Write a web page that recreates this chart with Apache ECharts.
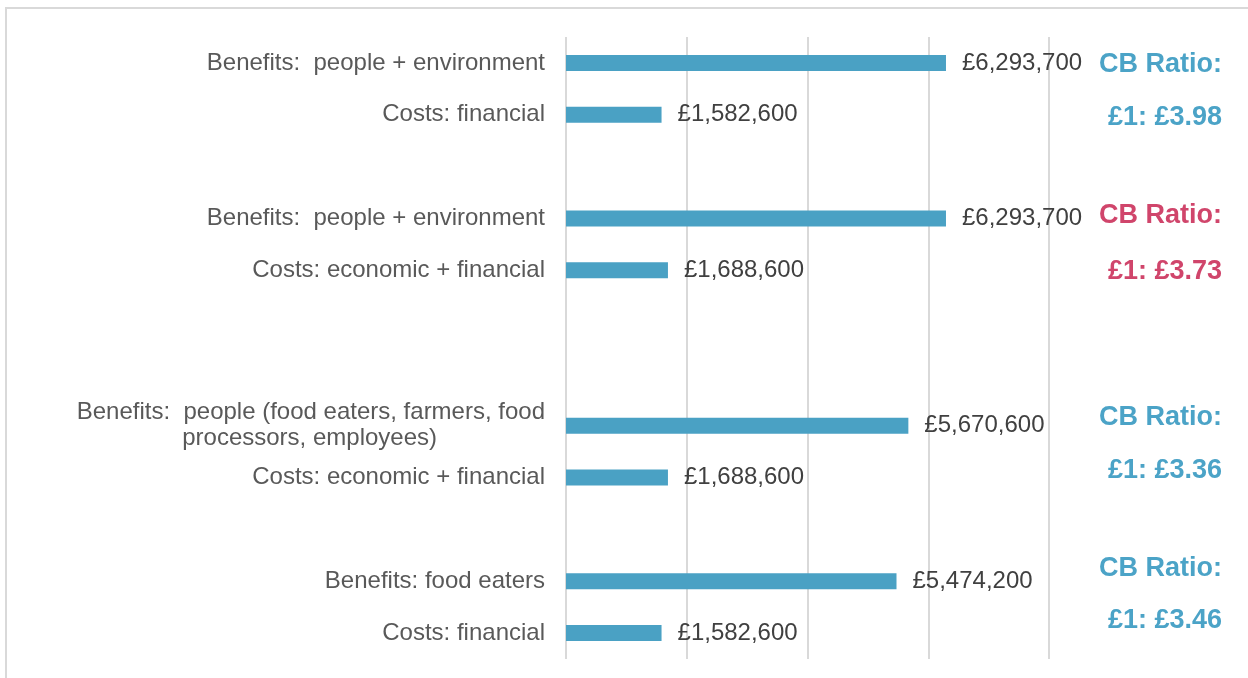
<!DOCTYPE html>
<html>
<head>
<meta charset="utf-8">
<title>Cost–benefit ratios</title>
<script src="https://cdn.jsdelivr.net/npm/echarts@6/dist/echarts.min.js"></script>
<style>
  html, body { margin: 0; padding: 0; background: #ffffff; }
  #chart { width: 1248px; height: 678px; }
</style>
</head>
<body>
<div id="chart"></div>
<script>
// Category rows, top to bottom (blank rows separate the four comparisons)
const categories = [
  'Benefits:  people + environment',
  'Costs: financial',
  '',
  'Benefits:  people + environment',
  'Costs: economic + financial',
  '',
  '',
  'Benefits:  people (food eaters, farmers, food\nprocessors, employees)',
  'Costs: economic + financial',
  '',
  'Benefits: food eaters',
  'Costs: financial'
];

// Value of each row in pounds (null for spacer rows)
const values = [
  6293700, 1582600, null,
  6293700, 1688600, null, null,
  5670600, 1688600, null,
  5474200, 1582600
];

// Each comparison: [benefit row, cost row, highlight colour]
const comparisons = [
  [0, 1, '#4BA3C7'],
  [3, 4, '#D0456B'],
  [7, 8, '#4BA3C7'],
  [10, 11, '#4BA3C7']
];

// x-axis ticks
const axisMin = 0;
const axisMax = 8000000;
const axisStep = 2000000;

const fmtPounds = v => '£' + Number(v).toLocaleString('en-GB');

const chart = echarts.init(document.getElementById('chart'), null, { renderer: 'canvas' });

const FONT = '"Liberation Sans", Arial, Helvetica, sans-serif';

// Vertical placement of the two ratio lines for each comparison
const ratioLineY = [[63, 116], [214, 270], [416, 469], [567, 619]];

const ratioTexts = [];
comparisons.forEach((c, i) => {
  const ratio = values[c[0]] / values[c[1]];
  const lines = ['CB Ratio:', '£1: £' + ratio.toFixed(2)];
  lines.forEach((t, j) => {
    ratioTexts.push({
      type: 'text',
      right: 1248 - 1222,
      top: ratioLineY[i][j] - 12,
      style: {
        text: t,
        fill: c[2],
        font: 'bold 27px ' + FONT,
        textAlign: 'right'
      },
      z: 10
    });
  });
});

chart.setOption({
  animation: false,
  backgroundColor: '#ffffff',
  grid: { left: 566, right: 199, top: 37, bottom: 19, containLabel: false },
  xAxis: {
    type: 'value',
    min: axisMin,
    max: axisMax,
    interval: axisStep,
    axisLabel: { show: false },
    axisLine: { show: false },
    axisTick: { show: false },
    splitLine: { show: true, lineStyle: { color: '#D9D9D9', width: 2 } }
  },
  yAxis: {
    type: 'category',
    inverse: true,
    data: categories,
    axisLine: { show: false },
    axisTick: { show: false },
    splitLine: { show: false },
    axisLabel: {
      margin: 21,
      color: '#595959',
      fontSize: 24,
      fontFamily: FONT,
      interval: 0,
      formatter: function (v) {
        if (v.indexOf('\n') >= 0) {
          const parts = v.split('\n');
          return '{a|' + parts[0] + '}\n{b|' + parts[1] + '}';
        }
        return v;
      },
      rich: {
        a: { fontSize: 24, color: '#595959', fontFamily: FONT, lineHeight: 26 },
        b: { fontSize: 24, color: '#595959', fontFamily: FONT, lineHeight: 26, padding: [0, 108, 0, 0] }
      }
    }
  },
  series: [{
    type: 'bar',
    data: values,
    barWidth: 16,
    itemStyle: { color: '#4AA1C4' },
    label: {
      show: true,
      position: 'right',
      distance: 16,
      color: '#404040',
      fontSize: 24,
      fontFamily: FONT,
      formatter: p => fmtPounds(p.value)
    }
  }],
  graphic: [
    {
      type: 'rect',
      shape: { x: 6, y: 8, width: 1400, height: 800 },
      style: { fill: 'none', stroke: '#D9D9D9', lineWidth: 2 },
      silent: true,
      z: -1
    }
  ].concat(ratioTexts)
});
</script>
</body>
</html>
